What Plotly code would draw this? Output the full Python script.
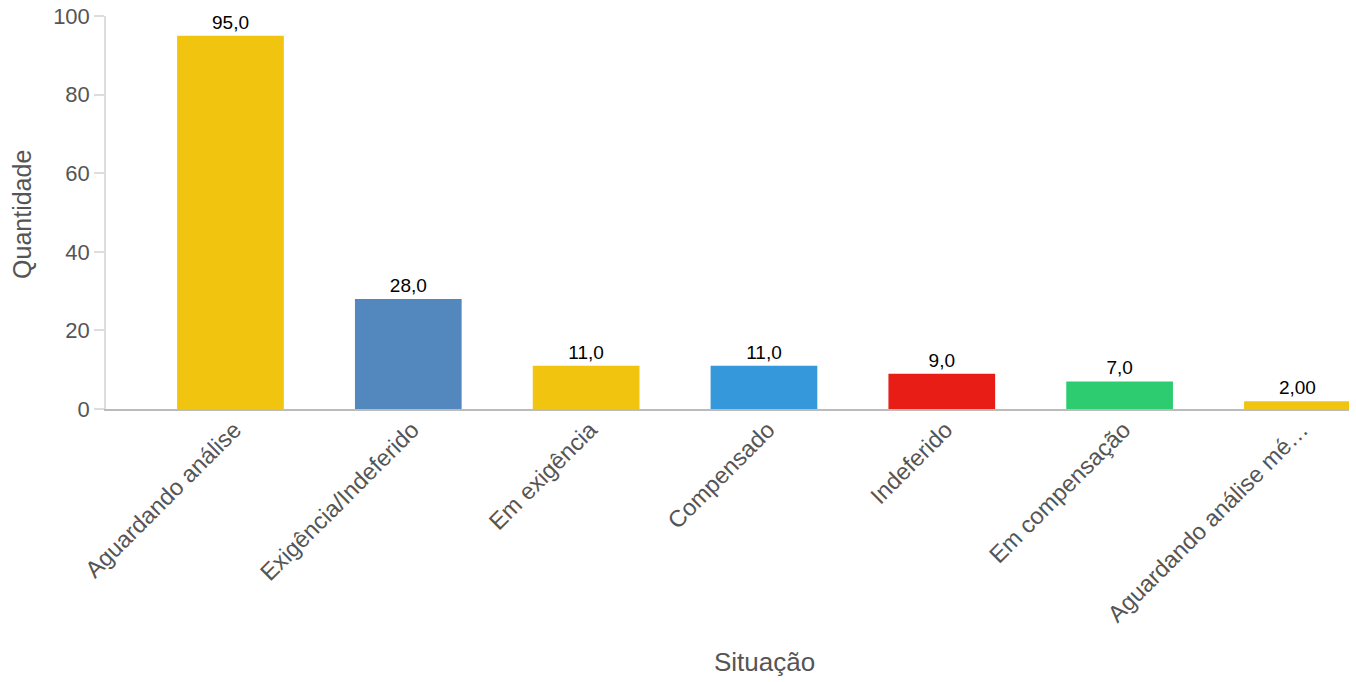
import plotly.graph_objects as go

categories = ["Aguardando análise", "Exigência/Indeferido", "Em exigência", "Compensado",
              "Indeferido", "Em compensação", "Aguardando análise mé…"]
values = [95, 28, 11, 11, 9, 7, 2]
value_labels = ["95,0", "28,0", "11,0", "11,0", "9,0", "7,0", "2,00"]
bar_colors = ["#F1C40F", "#5288BE", "#F1C40F", "#3498DB", "#E71D16", "#2ECC71", "#F1C40F"]
y_ticks = [0, 20, 40, 60, 80, 100]
x_title = "Situação"
y_title = "Quantidade"

FONT = "Liberation Sans, Arial, sans-serif"

fig = go.Figure(go.Bar(
    x=categories, y=values,
    marker=dict(color=bar_colors, line=dict(width=0)),
    text=value_labels, textposition="outside", cliponaxis=False,
    textfont=dict(family=FONT, size=19, color="#000000"),
    width=0.6,
))

fig.update_layout(
    width=1356, height=682,
    margin=dict(l=106, r=7, t=16, b=273),
    paper_bgcolor="white", plot_bgcolor="white",
    showlegend=False,
    font=dict(family=FONT, color="#555555"),
    xaxis=dict(
        range=[-0.7, 6.29], tickangle=-45, automargin=False,
        showline=True, linecolor="#BBBBBB", linewidth=1.5,
        showgrid=False, ticks="",
        ticklabelstandoff=-4, ticklabelshift=4,
        tickfont=dict(size=23.5, color="#555555"),
    ),
    yaxis=dict(
        range=[0, 100], tickvals=y_ticks, automargin=False,
        showline=True, linecolor="#DDDDDD", linewidth=1.5,
        showgrid=False, zeroline=False, ticklabeloverflow="allow",
        ticks="outside", ticklen=10, tickcolor="#DDDDDD", tickwidth=1.5,
        tickfont=dict(size=22, color="#555555"),
    ),
    annotations=[
        dict(text=x_title, xref="paper", yref="paper", x=0.5294, y=-0.6438,
             xanchor="center", yanchor="middle", showarrow=False,
             font=dict(size=26, color="#555555", family=FONT)),
        dict(text=y_title, xref="paper", yref="paper", x=-0.0676, y=0.4962,
             xanchor="center", yanchor="middle", showarrow=False, textangle=-90,
             font=dict(size=25, color="#555555", family=FONT)),
    ],
)

# remove the default 8px page margin so the figure fills the window exactly
fig.write_html("out.html", config={"displayModeBar": False},
               post_script="document.body.style.margin='0';")
